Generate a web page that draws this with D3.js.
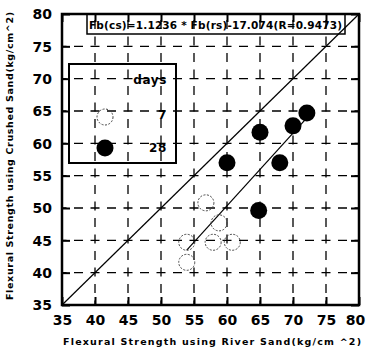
<!DOCTYPE html>
<html><head><meta charset="utf-8">
<script src="https://cdn.jsdelivr.net/npm/d3@7"></script>
<style>body{margin:0;background:#fff}svg{display:block}text{font-family:"DejaVu Sans",Arial,sans-serif;font-weight:bold;fill:#000}</style>
</head><body>
<script>
const xTicks = [35,40,45,50,55,60,65,70,75,80];
const yTicks = [35,40,45,50,55,60,65,70,75,80];
// 7 days
const river7 = [56.8,58.8,53.9,57.9,60.8,53.9];
const crushed7 = [50.8,47.7,44.7,44.7,44.7,41.6];
// 28 days
const river28 = [72.1,70.0,65.0,60.0,68.0,64.8];
const crushed28 = [64.7,62.7,61.7,57.0,57.0,49.6];
const slope = 1.1236, intercept = -17.074;
const eqText = "Fb(cs)=1.1236 * Fb(rs)-17.074(R=0.9473)";
const legendLabels = ["days","7","28"];

const W=366,H=354;
const svg=d3.select("body").append("svg").attr("width",W).attr("height",H);
const x=d3.scaleLinear().domain([35,80]).range([62,359]);
const y=d3.scaleLinear().domain([35,80]).range([305,14]);
const FONT="DejaVu Sans, Arial, sans-serif";

// grid
const dash="9,7.5";
const g=svg.append("g");
g.selectAll(".vg").data(xTicks.slice(1,-1)).join("line")
 .attr("x1",d=>x(d)).attr("x2",d=>x(d)).attr("y1",y(35)).attr("y2",y(80))
 .attr("stroke","#000").attr("stroke-width",1.3).attr("stroke-dasharray",dash).attr("stroke-dashoffset",4.5);
g.selectAll(".hg").data(yTicks.slice(1,-1)).join("line")
 .attr("y1",d=>y(d)).attr("y2",d=>y(d)).attr("x1",x(35)).attr("x2",x(80))
 .attr("stroke","#000").attr("stroke-width",1.3).attr("stroke-dasharray",dash).attr("stroke-dashoffset",4.5);

// axes with inner ticks
const ax=(gen,tr)=>svg.append("g").attr("transform",tr).call(gen);
const styleAxis=s=>{s.select(".domain").remove();s.selectAll(".tick line").attr("stroke","#000").attr("stroke-width",2);};
const bx=ax(d3.axisBottom(x).tickValues(xTicks).tickSize(-8).tickPadding(10),`translate(0,${y(35)})`);
styleAxis(bx); bx.selectAll("text").style("font-size","14px").style("font-family",FONT).style("font-weight","bold").attr("fill","#000")
 .attr("dx",d=>d===80?-4:0);
const ly=ax(d3.axisLeft(y).tickValues(yTicks).tickSize(-8).tickPadding(10),`translate(${x(35)},0)`);
styleAxis(ly); ly.selectAll("text").style("font-size","14px").style("font-family",FONT).style("font-weight","bold").attr("fill","#000").attr("dy","0.35em");
const tx=ax(d3.axisTop(x).tickValues(xTicks).tickSize(-8).tickFormat(""),`translate(0,${y(80)})`); styleAxis(tx);
const ry=ax(d3.axisRight(y).tickValues(yTicks).tickSize(-8).tickFormat(""),`translate(${x(80)},0)`); styleAxis(ry);

// frame
svg.append("rect").attr("x",x(35)).attr("y",y(80)).attr("width",x(80)-x(35)).attr("height",y(35)-y(80))
 .attr("fill","none").attr("stroke","#000").attr("stroke-width",2.5);

// 1:1 line
svg.append("line").attr("x1",x(35)).attr("y1",y(35)).attr("x2",x(80)).attr("y2",y(80)).attr("stroke","#000").attr("stroke-width",1.2);
// regression line across data range
const allX=river7.concat(river28);
const x0=d3.min(allX), x1=d3.max(allX);
svg.append("line").attr("x1",x(x0)).attr("y1",y(slope*x0+intercept)).attr("x2",x(x1)).attr("y2",y(slope*x1+intercept))
 .attr("stroke","#000").attr("stroke-width",1.2);

// points
svg.append("g").selectAll("circle").data(river7.map((v,i)=>[v,crushed7[i]])).join("circle")
 .attr("cx",d=>x(d[0])).attr("cy",d=>y(d[1])).attr("r",8)
 .attr("fill","none").attr("stroke","#444").attr("stroke-width",1).attr("stroke-dasharray","2,1.5");
svg.append("g").selectAll("circle").data(river28.map((v,i)=>[v,crushed28[i]])).join("circle")
 .attr("cx",d=>x(d[0])).attr("cy",d=>y(d[1])).attr("r",8.5).attr("fill","#000");

// equation box
svg.append("path").attr("d",`M87,${y(80)}V34H345V${y(80)}`).attr("fill","none").attr("stroke","#000").attr("stroke-width",1.5);
svg.append("text").attr("x",89).attr("y",29).attr("font-size",10.5)
 .attr("textLength",253).attr("lengthAdjust","spacing").text(eqText);

// legend
svg.append("rect").attr("x",69).attr("y",64).attr("width",107).attr("height",99).attr("fill","none").attr("stroke","#000").attr("stroke-width",2);
const ly0=[84,119,152];
legendLabels.forEach((t,i)=>svg.append("text").attr("x",167).attr("y",ly0[i]).attr("text-anchor","end").attr("font-size",12).attr("letter-spacing",0.6).text(t));
svg.append("circle").attr("cx",105).attr("cy",117).attr("r",8).attr("fill","none").attr("stroke","#444").attr("stroke-width",1).attr("stroke-dasharray","2,1.5");
svg.append("circle").attr("cx",105).attr("cy",148).attr("r",8.5).attr("fill","#000");

// axis titles
svg.append("text").attr("x",63).attr("y",345).attr("font-size",9.5)
 .attr("textLength",298).attr("lengthAdjust","spacing").text("Flexural Strength using River Sand(kg/cm ^2)");
svg.append("text").attr("transform",`translate(13,300) rotate(-90)`).attr("font-size",9.5)
 .attr("textLength",288).attr("lengthAdjust","spacing").text("Flexural Strength using Crushed Sand(kg/cm^2)");
</script>
</body></html>
